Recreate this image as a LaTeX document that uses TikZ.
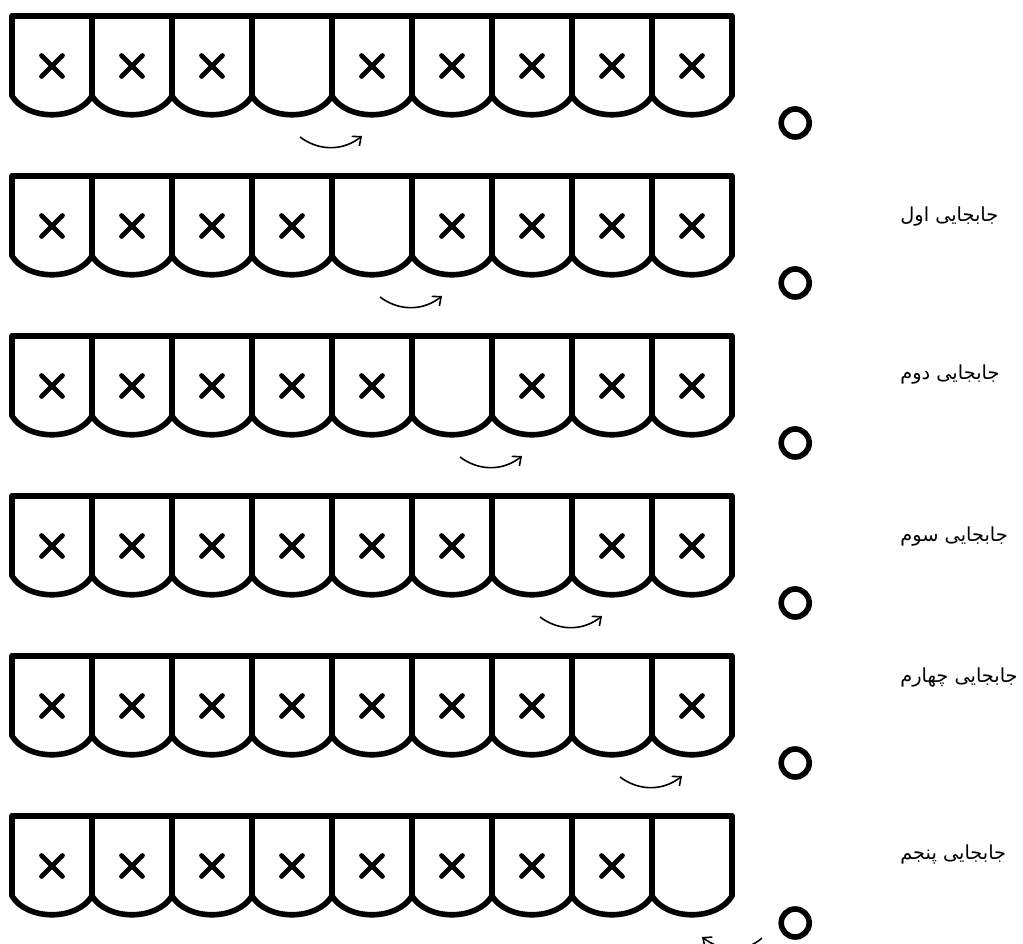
\documentclass[tikz,border=0pt]{standalone}
\usepackage{fontspec}
\usepackage{tikz}
\usetikzlibrary{arrows.meta}
\newfontfamily\arabicfont[Script=Arabic]{DejaVu Sans}
\TeXXeTstate=1

\begin{document}
\begin{tikzpicture}[x=1.6cm,y=-1.6cm,
  cellline/.style={line width=3.2pt,line join=round,line cap=round},
  xmark/.style={line width=2.8pt,line cap=round},
  ring/.style={draw,circle,line width=3.2pt,minimum size=0.56cm,inner sep=0pt},
  movearrow/.style={line width=0.9pt,-{Straight Barb[length=4pt,width=7pt]}},
  steptext/.style={anchor=west,inner sep=0pt,font=\arabicfont\fontsize{11}{13}\selectfont}]
  \useasboundingbox (0,0) rectangle (12.7875,11.8); % page frame
  \foreach \r/\gap in {0/3,1/4,2/5,3/6,4/7,5/8} {
    \draw[cellline] (0.15,0.2+2*\r) -- (9.15,0.2+2*\r); % top edge of the row
    \foreach \i in {0,...,8} {
      \draw[cellline] (0.15+\i,0.2+2*\r) -- (0.15+\i,1.2+2*\r)
        .. controls (0.34+\i,1.5125+2*\r) and (0.96+\i,1.5125+2*\r) .. (1.15+\i,1.2+2*\r)
        -- (1.15+\i,0.2+2*\r); % one cell
      \ifnum\i=\gap\else
        \draw[xmark,shift={(0.65+\i,0.825+2*\r)}] (-0.13,-0.13) -- (0.13,0.13)
          (-0.13,0.13) -- (0.13,-0.13); % full cell
      \fi
    }
    \node[ring] (ring\r) at (9.94,1.5375+2*\r) {}; % spare ball
  }
  \foreach \r in {0,...,4} {
    \coordinate (tail\r) at (3.75+\r,1.7125+2*\r); % under the empty cell
    \coordinate (head\r) at (4.525+\r,1.7+2*\r); % under the next cell
    \draw[movearrow] (tail\r) .. controls +(0.25,0.1875) and +(-0.225,0.18) .. (head\r);
  }
  \coordinate (tail5) at (9.525,11.725); % beside the last ball
  \coordinate (head5) at (8.775,11.7125); % under the last cell
  \draw[movearrow] (tail5) .. controls +(-0.2,0.18) and +(0.25,0.19) .. (head5);
  \node[steptext] (move1) at (11.25,2.7125) {\beginR جابجایی اول\endR};
  \node[steptext] (move2) at (11.25,4.6875) {\beginR جابجایی دوم\endR};
  \node[steptext] (move3) at (11.25,6.7125) {\beginR جابجایی سوم\endR};
  \node[steptext] (move4) at (11.25,8.475) {\beginR جابجایی چهارم\endR};
  \node[steptext] (move5) at (11.25,10.6875) {\beginR جابجایی پنجم\endR};
\end{tikzpicture}
\end{document}
